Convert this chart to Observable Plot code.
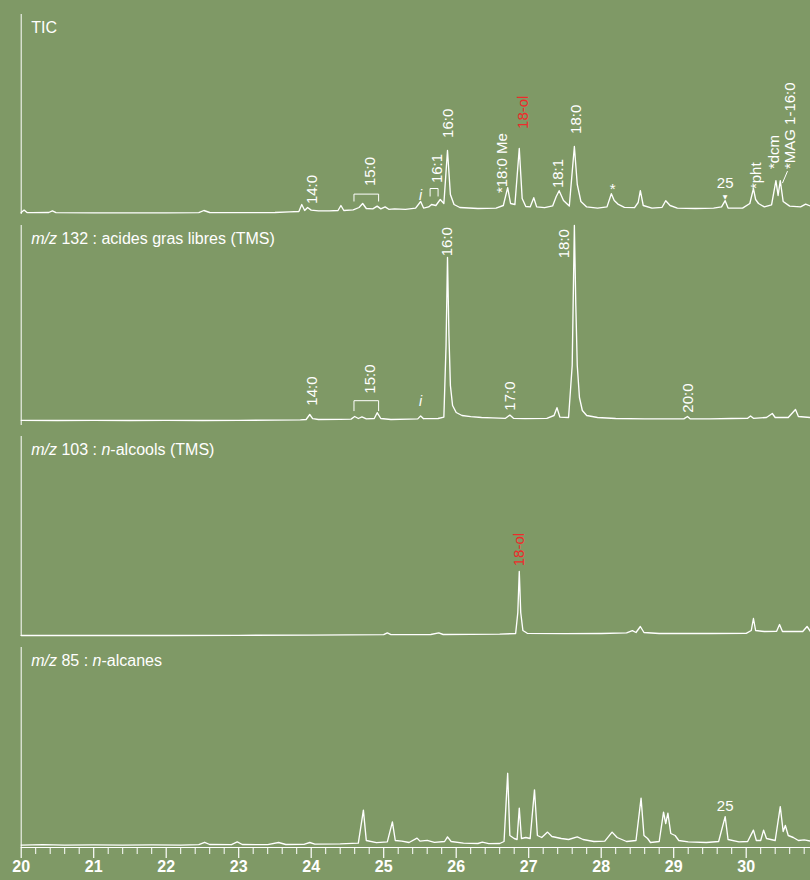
<!DOCTYPE html>
<html><head><meta charset="utf-8">
<script src="https://cdn.jsdelivr.net/npm/d3@7"></script>
<script src="https://cdn.jsdelivr.net/npm/@observablehq/plot@0.6"></script>
<style>
html,body{margin:0;padding:0;background:#7f9966;}
#chart svg{display:block;}
</style></head><body><div id="chart"></div>
<script>
// Panels (top to bottom)
const panels = ["TIC", "m/z 132 : acides gras libres (TMS)", "m/z 103 : n-alcools (TMS)", "m/z 85 : n-alcanes"];

// Chromatograms: [retention time (min), relative intensity (% of panel height)]
const tic = [[20.00,1.0],[20.04,2.2],[20.08,1.0],[20.15,0.9],[20.38,1.0],[20.43,1.8],[20.48,0.9],[21.00,0.8],[21.50,0.8],[22.00,0.8],[22.45,0.9],[22.52,2.0],[22.60,1.0],[23.00,0.9],[23.50,1.0],[23.70,1.3],[23.83,1.5],[23.87,5.0],[23.91,2.0],[23.95,3.5],[24.00,2.2],[24.10,1.8],[24.25,1.8],[24.37,2.0],[24.41,4.5],[24.45,2.0],[24.58,2.3],[24.66,3.5],[24.71,5.5],[24.76,3.0],[24.85,2.8],[24.91,4.2],[24.96,2.8],[25.02,3.8],[25.07,2.6],[25.15,2.8],[25.30,2.6],[25.44,3.2],[25.51,6.5],[25.55,3.2],[25.62,3.8],[25.66,5.0],[25.72,4.5],[25.78,7.5],[25.83,5.5],[25.88,32.0],[25.92,10.0],[25.97,5.0],[26.05,3.5],[26.30,3.0],[26.55,3.2],[26.65,4.5],[26.71,13.4],[26.75,5.5],[26.81,5.0],[26.87,33.0],[26.91,8.0],[26.96,4.0],[27.02,3.8],[27.07,8.4],[27.11,3.8],[27.22,3.4],[27.33,4.3],[27.38,9.0],[27.42,11.9],[27.48,7.0],[27.56,4.2],[27.63,34.0],[27.67,15.0],[27.72,6.5],[27.80,3.8],[27.95,3.2],[28.08,3.8],[28.14,10.4],[28.18,7.0],[28.23,5.2],[28.32,3.6],[28.46,3.4],[28.51,6.0],[28.54,11.9],[28.58,4.5],[28.70,3.2],[28.84,3.6],[28.89,6.9],[28.95,4.5],[29.05,3.2],[29.30,3.0],[29.55,3.2],[29.66,3.8],[29.71,6.9],[29.75,3.2],[29.95,3.2],[30.05,5.5],[30.10,12.9],[30.13,7.5],[30.17,5.5],[30.25,3.8],[30.35,4.8],[30.41,16.9],[30.44,9.5],[30.47,16.9],[30.51,6.5],[30.60,4.2],[30.75,3.8],[30.82,5.2],[30.887,4.2]];
const mz132 = [[20.00,2.6],[20.50,2.5],[21.00,2.6],[21.50,2.5],[22.00,2.6],[22.50,2.5],[23.00,2.6],[23.50,2.7],[23.85,2.8],[23.93,3.0],[23.98,5.5],[24.02,3.4],[24.10,3.0],[24.40,3.1],[24.55,3.2],[24.60,4.5],[24.65,3.5],[24.70,4.3],[24.76,3.3],[24.87,3.5],[24.91,6.4],[24.96,3.5],[25.10,3.0],[25.35,3.2],[25.47,3.3],[25.51,4.8],[25.55,3.4],[25.75,3.5],[25.83,4.2],[25.86,40],[25.88,84],[25.90,45],[25.92,20],[25.95,10],[26.00,6.5],[26.08,5.0],[26.20,4.4],[26.35,4.0],[26.50,3.8],[26.68,3.6],[26.74,5.2],[26.79,3.6],[26.95,3.4],[27.25,3.6],[27.35,5.0],[27.39,8.9],[27.43,4.2],[27.55,4.0],[27.60,30],[27.63,100],[27.65,60],[27.67,30],[27.70,14],[27.74,7.5],[27.80,5.0],[27.95,4.0],[28.20,3.5],[28.60,3.3],[29.00,3.3],[29.14,3.3],[29.19,4.5],[29.23,3.3],[29.50,3.3],[29.80,3.5],[30.02,3.6],[30.06,4.8],[30.10,3.6],[30.28,4.0],[30.36,6.0],[30.40,4.0],[30.58,4.0],[30.68,8.0],[30.72,4.5],[30.887,4.0]];
const mz103 = [[20.00,0.5],[21.00,0.5],[22.00,0.5],[23.00,0.6],[24.00,0.7],[24.50,0.8],[25.00,0.9],[25.05,1.8],[25.10,0.9],[25.65,1.0],[25.76,1.8],[25.82,1.0],[26.60,1.2],[26.82,1.5],[26.85,12],[26.87,32.5],[26.89,12],[26.92,3.0],[26.98,1.6],[27.50,1.4],[28.00,1.5],[28.35,1.8],[28.43,2.9],[28.48,2.0],[28.54,5.0],[28.59,2.0],[28.80,1.5],[29.50,1.5],[30.00,1.6],[30.07,3.0],[30.10,9.0],[30.13,3.0],[30.25,2.5],[30.42,2.6],[30.46,6.0],[30.50,2.5],[30.78,2.5],[30.84,5.0],[30.887,2.5]];
const mz85 = [[20.00,1.2],[20.30,1.4],[20.60,1.2],[21.00,1.3],[21.40,1.2],[21.80,1.3],[22.20,1.2],[22.45,1.4],[22.53,2.6],[22.60,1.5],[22.90,1.4],[22.98,2.8],[23.05,1.5],[23.40,1.4],[23.55,2.5],[23.65,1.5],[23.90,1.6],[23.98,2.5],[24.05,1.7],[24.40,1.8],[24.65,2.2],[24.72,18.7],[24.76,3.5],[24.90,2.4],[25.05,2.8],[25.12,12.8],[25.16,3.5],[25.25,3.2],[25.35,2.5],[25.46,4.7],[25.50,3.2],[25.60,3.6],[25.70,2.6],[25.84,3.0],[25.88,5.3],[25.93,3.0],[26.10,2.2],[26.30,2.0],[26.36,2.7],[26.45,1.9],[26.60,2.0],[26.66,3.0],[26.71,37.1],[26.74,6.0],[26.80,4.5],[26.84,4.0],[26.87,19.7],[26.90,4.5],[26.96,5.0],[27.02,4.5],[27.08,28.8],[27.12,6.0],[27.18,5.0],[27.26,7.7],[27.32,5.5],[27.45,4.5],[27.55,4.0],[27.67,5.3],[27.75,4.0],[27.90,3.0],[28.05,3.2],[28.15,7.7],[28.22,5.0],[28.35,3.0],[28.48,3.5],[28.55,24.7],[28.59,6.0],[28.64,4.5],[28.68,2.5],[28.80,3.0],[28.86,17.7],[28.89,12.0],[28.92,17.2],[28.96,7.0],[29.02,6.0],[29.07,3.5],[29.20,2.8],[29.45,2.5],[29.62,3.0],[29.71,15.4],[29.75,4.0],[29.90,2.8],[30.02,3.0],[30.10,8.7],[30.14,3.5],[30.20,3.5],[30.24,8.7],[30.28,4.5],[30.40,3.5],[30.47,20.4],[30.51,8.0],[30.54,11.0],[30.58,6.0],[30.65,5.0],[30.72,3.5],[30.80,3.8],[30.887,3.2]];
const series = [tic, mz132, mz103, mz85];

// Rotated peak labels: [panel index, rt, intensity at label foot, text]
const peakLabels = [
  [0,24.02,5.2,"14:0"],[0,24.82,14.2,"15:0"],[0,25.74,15.7,"16:1"],[0,25.89,38.3,"16:0"],
  [0,26.64,10.7,"*18:0 Me"],[0,27.40,13.2,"18:1"],[0,27.66,40.3,"18:0"],
  [0,30.14,12.7,"*pht"],[0,30.38,22.7,"*dcm"],[0,30.61,22.7,"*MAG 1-16:0"],
  [1,24.01,9.9,"14:0"],[1,24.82,15.9,"15:0"],[1,25.88,84.6,"16:0"],[1,26.74,7.4,"17:0"],
  [1,27.49,83.6,"18:0"],[1,29.20,6.4,"20:0"]
];
// Highlighted (red) labels
const redLabels = [[0,26.93,42.8,"18-ol"],[2,26.87,35.1,"18-ol"]];
// Horizontal labels: [panel, rt, centre intensity, text]
const flatLabels = [[0,28.16,12.5,"*"],[0,29.71,15.7,"25"],[3,29.71,20.7,"25"]];
const isoLabels = [[0,25.51,9.5,"i"],[1,25.51,12.2,"i"]];
const markers = [[0,29.71,8.7]];
// Brackets: [panel, rt start, rt end, top, leg foot]
const brackets = [[0,24.59,24.93,10.2,6.7],[0,25.64,25.75,13.0,9.2],[1,24.59,24.93,12.4,7.4]];
// Leader line for MAG: [panel, rt1, v1, rt2, v2]
const leaders = [[0,30.57,21.7,30.50,15.7]];

// Axis ticks
const majorTicks = [20,21,22,23,24,25,26,27,28,29,30];
const minorTicks = d3.range(100, 155).map(d => d / 5).filter(d => !Number.isInteger(d));

const lineData = series.flatMap((s, k) => s.map(([rt, v]) => ({panel: panels[k], rt, v})));
const bracketPts = brackets.flatMap(([p, a, b, top, leg], i) => [
  {panel: panels[p], rt: a, v: leg, id: i}, {panel: panels[p], rt: a, v: top, id: i},
  {panel: panels[p], rt: b, v: top, id: i}, {panel: panels[p], rt: b, v: leg, id: i}]);

const FONT = "Liberation Sans, Arial, sans-serif";
const RED = "#ee2b2b";

const chart = Plot.plot({
  width: 810, height: 880,
  marginLeft: 20.7, marginRight: 0, marginTop: 14, marginBottom: 32.7,
  style: {background: "transparent", color: "white", fontFamily: FONT},
  x: {domain: [20, 30.887], axis: null, label: null},
  y: {domain: [0, 100], axis: null},
  fy: {domain: panels, axis: null, paddingInner: 0.054, paddingOuter: 0},
  marks: [
    Plot.ruleX([20], {y1: 0, y2: 100, stroke: "white", strokeWidth: 1}),
    Plot.ruleY([0], {fy: [panels[3]], stroke: "white", strokeWidth: 1.2}),
    Plot.axisX(minorTicks, {tickSize: 7, tickFormat: () => "", label: null, stroke: "white", strokeWidth: 1}),
    Plot.axisX(majorTicks, {tickSize: 11, tickPadding: 2, label: null, tickFormat: d => String(d), stroke: "white", strokeWidth: 1.2,
      fontSize: 16, fontWeight: "bold", fill: "white", fontFamily: FONT}),
    Plot.line(lineData, {x: "rt", y: "v", fy: "panel", stroke: "white", strokeWidth: 1.35}),
    Plot.line(bracketPts, {x: "rt", y: "v", fy: "panel", z: "id", stroke: "white", strokeWidth: 1}),
    Plot.link(leaders, {x1: d => d[1], y1: d => d[2], x2: d => d[3], y2: d => d[4], fy: d => panels[d[0]], stroke: "white", strokeWidth: 1}),
    Plot.text(panels, {fy: d => d, text: d => d, frameAnchor: "top-left", dx: 10, dy: 13, textAnchor: "start", lineAnchor: "middle",
      fontSize: 16, fill: "white", fontFamily: FONT}),
    Plot.text(peakLabels, {x: d => d[1], y: d => d[2], fy: d => panels[d[0]], text: d => d[3], rotate: -90,
      textAnchor: "start", lineAnchor: "middle", fontSize: 15, fill: "white", fontFamily: FONT}),
    Plot.text(redLabels, {x: d => d[1], y: d => d[2], fy: d => panels[d[0]], text: d => d[3], rotate: -90,
      textAnchor: "start", lineAnchor: "middle", fontSize: 15, fill: RED, fontFamily: FONT}),
    Plot.text(flatLabels, {x: d => d[1], y: d => d[2], fy: d => panels[d[0]], text: d => d[3],
      textAnchor: "middle", lineAnchor: "middle", fontSize: 15, fill: "white", fontFamily: FONT}),
    Plot.text(isoLabels, {x: d => d[1], y: d => d[2], fy: d => panels[d[0]], text: d => d[3],
      textAnchor: "middle", lineAnchor: "middle", fontSize: 14, fontStyle: "italic", fill: "white", fontFamily: FONT}),
    Plot.text(markers, {x: d => d[1], y: d => d[2], fy: d => panels[d[0]], text: () => "▼",
      textAnchor: "middle", lineAnchor: "middle", fontSize: 6, fill: "white", fontFamily: "DejaVu Sans"})
  ]
});

// Italicise "m/z" and "n" in panel titles
chart.querySelectorAll("text").forEach(t => {
  const s = t.textContent;
  if (!panels.includes(s) || !/m\/z|n-/.test(s)) return;
  t.textContent = "";
  s.split(/(m\/z|n(?=-))/).forEach(part => {
    if (!part) return;
    const ts = document.createElementNS("http://www.w3.org/2000/svg", "tspan");
    ts.textContent = part;
    if (part === "m/z" || part === "n") ts.setAttribute("font-style", "italic");
    t.appendChild(ts);
  });
});
document.getElementById("chart").appendChild(chart);
</script></body></html>
